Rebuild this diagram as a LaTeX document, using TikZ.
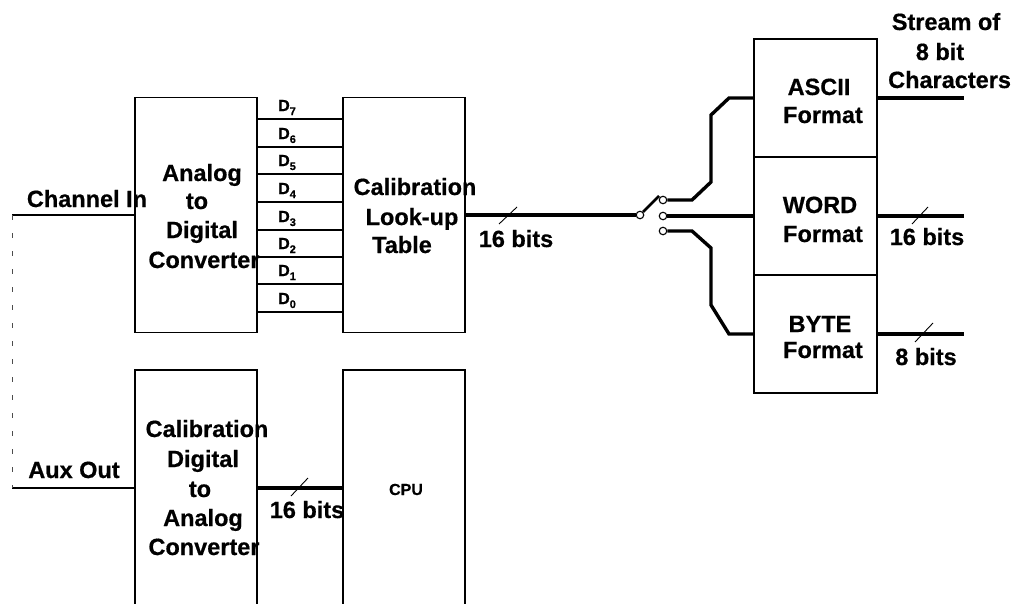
\documentclass[tikz,border=0pt]{standalone}
\usepackage{fontspec}
\setmainfont{Liberation Sans}[BoldFeatures={FakeBold=0.6}]
\begin{document}
\begin{tikzpicture}[x=1pt,y=-1pt,
  box/.style={draw, line width=1.6pt, inner sep=0pt},
  bus/.style={line width=3.4pt},
  wire/.style={line width=1.5pt},
  slash/.style={line width=0.9pt},
  lbl/.style={font=\bfseries\fontsize{23.5}{29}\selectfont, inner sep=0pt, anchor=base},
  dlbl/.style={font=\bfseries\fontsize{16}{16}\selectfont, inner sep=0pt, anchor=base west},
  term/.style={circle, draw, fill=white, line width=1.1pt, minimum size=7.5pt, inner sep=0pt}]
\useasboundingbox (0,0) rectangle (1015,603);
\clip (0,0) rectangle (1015,603);

% boxes
\node[box, minimum width=122pt, minimum height=235pt] (adc) at (196,215) {};
\node[box, minimum width=122pt, minimum height=235pt] (cal) at (404,215) {};
\node[box, minimum width=122pt, minimum height=270pt] (dac) at (196,505) {};
\node[box, minimum width=122pt, minimum height=270pt] (cpu) at (404,505) {};
\node[box, minimum width=123pt, minimum height=118pt] (ascii) at (815.5,98) {};
\node[box, minimum width=123pt, minimum height=118pt] (word) at (815.5,216) {};
\node[box, minimum width=123pt, minimum height=118pt] (byte) at (815.5,334) {};

% box texts
\node[lbl] (t1) at (202,181) {Analog};
\node[lbl] (t2) at (197,209) {to};
\node[lbl] (t3) at (202,238) {Digital};
\node[lbl] (t4) at (204,268) {Converter};
\node[lbl] (t5) at (415,195) {Calibration};
\node[lbl] (t6) at (412,225) {Look-up};
\node[lbl] (t7) at (402,253) {Table};
\node[lbl] (t8) at (207,437) {Calibration};
\node[lbl] (t9) at (203,467) {Digital};
\node[lbl] (t10) at (200,497) {to};
\node[lbl] (t11) at (203,526) {Analog};
\node[lbl] (t12) at (204,555) {Converter};
\node[lbl, font=\bfseries\fontsize{16}{16}\selectfont] (t13) at (406,495) {CPU};
\node[lbl] (t14) at (819,95) {ASCII};
\node[lbl] (t15) at (823,123) {Format};
\node[lbl] (t16) at (820,213) {WORD};
\node[lbl] (t17) at (823,242) {Format};
\node[lbl] (t18) at (820,332) {BYTE};
\node[lbl] (t19) at (823,358) {Format};

% side labels
\node[lbl] (chl) at (87,207) {Channel In};
\node[lbl] (auxl) at (74,478) {Aux Out};
\node[lbl] (b1) at (516,247) {16 bits};
\node[lbl] (b2) at (307,518) {16 bits};
\node[lbl] (b3) at (927,245) {16 bits};
\node[lbl] (b4) at (926,365) {8 bits};
\node[lbl] (s1) at (946,30) {Stream of};
\node[lbl] (s2) at (940,60) {8 bit};
\node[lbl, anchor=base west] (s3) at (888,88) {Characters};

% inputs
\coordinate (chin) at (12,215);
\coordinate (aux) at (12,488);
\draw[wire] (chin) -- (adc.west);
\draw[wire] (aux) -- (aux -| dac.west);
\draw[line width=0.9pt, dash pattern=on 5pt off 13pt, gray!60!black] (chin) -- (aux);

% data lines D7..D0
\foreach \y/\n in {119/7,147/6,174/5,202/4,230/3,257/2,284/1,312/0}{
  \coordinate (dy) at (0,\y);
  \draw[wire] (adc.east |- dy) -- (cal.west |- dy);
  \node[dlbl] (d\n) at (278,\y-8) {D\raisebox{-4pt}{\fontsize{11}{11}\selectfont\bfseries \n}};
}

% DAC to CPU bus
\draw[bus] (dac.east |- aux) -- (cpu.west |- aux);
\draw[slash] (291,496) -- (308,478);

% main bus and switch
\node[term] (piv) at (640,215) {};
\node[term] (ta) at (663,200) {};
\node[term] (tw) at (663,216) {};
\node[term] (tb) at (663,231) {};
\draw[bus] (cal.east) -- (piv.west);
\draw[slash] (499,224) -- (517,207);
\coordinate (lev) at (659,196);
\draw[line width=2.6pt] (piv.north east) -- (lev);

% switch outputs to format boxes
\draw[bus] (ta.east) -- (692,200) -- (711,182) -- (711,115) -- (729,98) -- (ascii.west);
\draw[bus] (tw.east) -- (word.west);
\draw[bus] (tb.east) -- (692,231) -- (711,248) -- (711,305) -- (729,334) -- (byte.west);

% outputs
\coordinate (oa) at (964,98);
\coordinate (ow) at (964,216);
\coordinate (ob) at (964,334);
\draw[bus] (ascii.east) -- (oa);
\draw[bus] (word.east) -- (ow);
\draw[bus] (byte.east) -- (ob);
\draw[slash] (912,224) -- (928,207);
\draw[slash] (915,342) -- (933,323);
\end{tikzpicture}
\end{document}
